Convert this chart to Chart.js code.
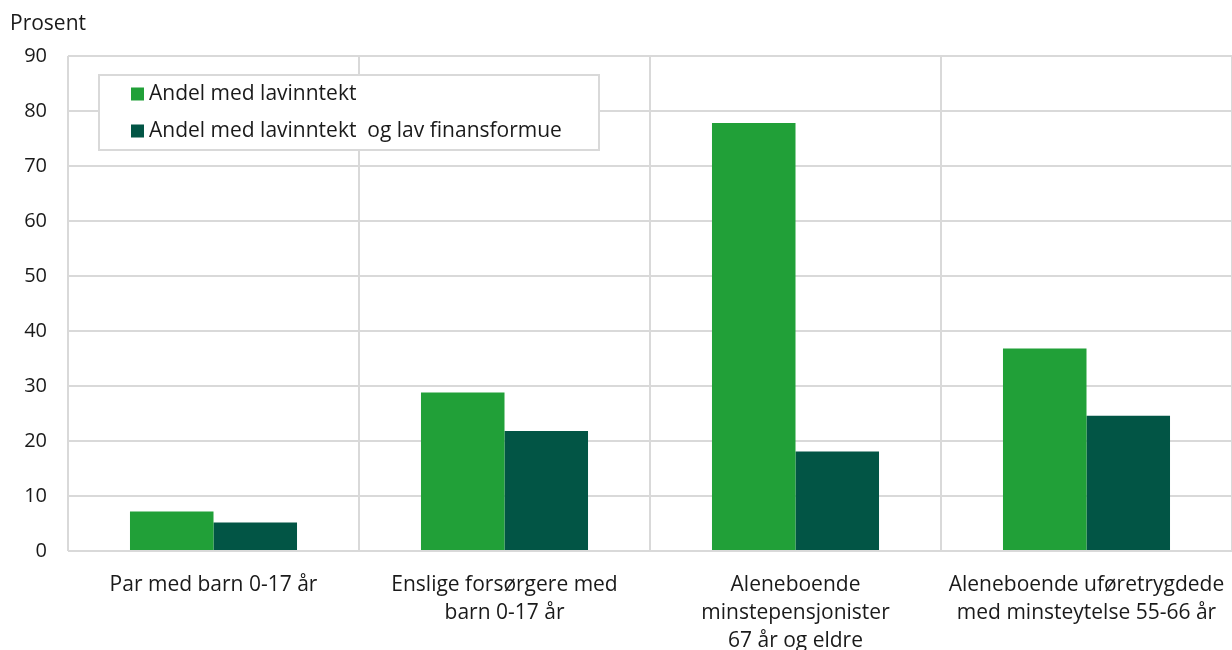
<!DOCTYPE html>
<html lang="no">
<head>
<meta charset="utf-8">
<script src="https://cdn.jsdelivr.net/npm/chart.js@4/dist/chart.umd.min.js"></script>
<style>
  html, body { margin: 0; padding: 0; background: #fff; }
  #wrap { width: 1232px; height: 650px; position: relative; }
</style>
</head>
<body>
<div id="wrap"><canvas id="c" width="1232" height="650"></canvas></div>
<script>
// Husholdningsgrupper (kategorier på x-aksen, med linjeskift)
const categories = [
  ['Par med barn 0-17 år'],
  ['Enslige forsørgere med', 'barn 0-17 år'],
  ['Aleneboende', 'minstepensjonister', '67 år og eldre'],
  ['Aleneboende uføretrygdede', 'med minsteytelse 55-66 år']
];
const seriesNames = ['Andel med lavinntekt', 'Andel med lavinntekt  og lav finansformue'];
const lavinntekt = [7.2, 28.8, 77.8, 36.8];
const lavinntektLavFormue = [5.2, 21.8, 18.1, 24.6];
const yTicks = [0, 10, 20, 30, 40, 50, 60, 70, 80, 90];
const yTitle = 'Prosent';

const FONT = '"Open Sans", "Noto Sans", sans-serif';
const GREEN = '#21a038';
const DARK = '#025545';
const GRID = '#d9d9d9';
const TEXT = '#1a1a1a';

// Tittel over y-aksen og forklaringsboks tegnes oppå diagrammet
const overlay = {
  id: 'overlay',
  afterDraw(chart) {
    const ctx = chart.ctx;
    ctx.save();
    ctx.font = '21px ' + FONT;
    ctx.fillStyle = TEXT;
    ctx.textBaseline = 'middle';
    ctx.textAlign = 'left';
    ctx.fillText(yTitle, 10, 24);

    // forklaring
    const bx = 99, by = 75, bw = 500, bh = 75;
    ctx.fillStyle = '#fff';
    ctx.fillRect(bx, by, bw, bh);
    ctx.strokeStyle = GRID;
    ctx.lineWidth = 2;
    ctx.strokeRect(bx, by, bw, bh);
    chart.data.datasets.forEach((ds, i) => {
      const y = 94 + i * 37;
      ctx.fillStyle = ds.backgroundColor;
      ctx.fillRect(131, y - 6.5, 13, 13);
      ctx.fillStyle = TEXT;
      ctx.fillText(ds.label, 149, y);
    });
    ctx.restore();
  }
};

new Chart(document.getElementById('c'), {
  type: 'bar',
  data: {
    labels: categories,
    datasets: [
      { label: seriesNames[0], data: lavinntekt, backgroundColor: GREEN },
      { label: seriesNames[1], data: lavinntektLavFormue, backgroundColor: DARK }
    ]
  },
  options: {
    responsive: false,
    animation: false,
    devicePixelRatio: 1,
    layout: { padding: { top: 56, left: 0, right: 0, bottom: 0 } },
    plugins: { legend: { display: false }, title: { display: false }, tooltip: { enabled: false } },
    datasets: { bar: { categoryPercentage: 0.574, barPercentage: 1 } },
    scales: {
      x: {
        offset: true,
        grid: { offset: true, color: GRID, lineWidth: 2, drawTicks: false },
        border: { display: false },
        ticks: { color: TEXT, font: { family: FONT, size: 21, lineHeight: 1.333 }, padding: 20, maxRotation: 0, autoSkip: false },
        afterFit(scale) {
          scale.height = 99;
          scale.paddingLeft = 0;
          scale.paddingRight = 0;
        }
      },
      y: {
        min: 0, max: 90,
        afterBuildTicks(scale) { scale.ticks = yTicks.map(v => ({ value: v })); },
        grid: { color: GRID, lineWidth: 2, drawTicks: false },
        border: { display: false },
        ticks: { color: TEXT, font: { family: FONT, size: 20 }, padding: 21 },
        afterFit(scale) { scale.width = 68; }
      }
    }
  },
  plugins: [overlay]
});
</script>
</body>
</html>
